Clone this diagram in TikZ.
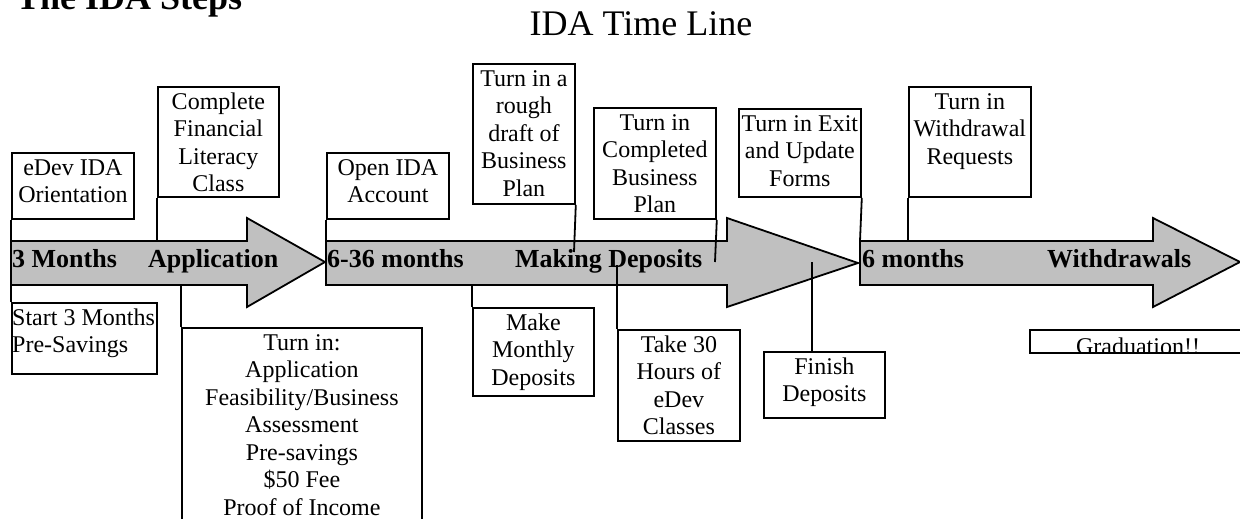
\documentclass[tikz,border=0pt]{standalone}
\usepackage{fontspec}
\setmainfont{Liberation Serif}
\definecolor{arrowgray}{HTML}{C0C0C0}
\tikzset{
  box/.style={draw, line width=1.8pt, inner sep=0pt, anchor=north west},
  txt/.style={font=\fontsize{24}{27.5}\selectfont, align=center, inner sep=0pt, anchor=north},
  ltxt/.style={font=\fontsize{24}{27.5}\selectfont, align=left, inner sep=0pt, anchor=north west},
  lbl/.style={font=\bfseries\fontsize{26}{30}\selectfont, anchor=base west, inner sep=0pt},
  conn/.style={line width=1.8pt},
  bigarrow/.style={draw, line width=1.8pt, fill=arrowgray, line join=miter}
}
\begin{document}
\begin{tikzpicture}[x=1pt,y=-1pt]
\useasboundingbox (0,0) rectangle (1240,519);
\clip (0,0) rectangle (1240,519);
\fill[white] (0,0) rectangle (1240,519);

% headings
\node[font=\bfseries\fontsize{36}{40}\selectfont, anchor=base west, inner sep=0pt] (heading) at (16,10) {The IDA Steps};
\node[font=\fontsize{36}{40}\selectfont, anchor=base, inner sep=0pt] (title) at (641,36) {IDA Time Line};

% timeline arrows
\draw[bigarrow] (11,241) -- (247,241) -- (247,218) -- (325,262) -- (247,307) -- (247,285) -- (11,285) -- cycle;
\draw[bigarrow] (326,241) -- (727,241) -- (727,218) -- (858,263) -- (727,307) -- (727,285) -- (326,285) -- cycle;
\draw[bigarrow] (860,241) -- (1153,241) -- (1153,218) -- (1240,262) -- (1153,307) -- (1153,285) -- (860,285) -- cycle;

% arrow labels
\node[lbl] (l1) at (12,267) {3 Months};
\node[lbl] (l2) at (148,267) {Application};
\node[lbl] (l3) at (327,267) {6-36 months};
\node[lbl] (l4) at (515,267) {Making Deposits};
\node[lbl] (l5) at (862,267) {6 months};
\node[lbl] (l6) at (1047,267) {Withdrawals};

% connector end points on the arrows
\coordinate (e1) at (11,241);
\coordinate (e2) at (157,241);
\coordinate (e3) at (11,285);
\coordinate (e4) at (181,285);
\coordinate (e5) at (326,241);
\coordinate (e6) at (574,252);
\coordinate (e7) at (715,262);
\coordinate (e8) at (860,241);
\coordinate (e9) at (908,241);
\coordinate (e10) at (472,285);
\coordinate (e11) at (617,265);
\coordinate (e12) at (812,262);

% boxes above
\node[box, minimum width=122, minimum height=66] (orient) at (11,152) {};
\node[txt] (orientT) at ([yshift=-3.75pt]orient.north) {\strut eDev IDA\\Orientation};

\node[box, minimum width=121, minimum height=110] (fin) at (157,86) {};
\node[txt] (finT) at ([yshift=-3.75pt]fin.north) {\strut Complete\\Financial\\Literacy\\Class};

\node[box, minimum width=122, minimum height=66] (openida) at (326,152) {};
\node[txt] (openidaT) at ([yshift=-3.75pt]openida.north) {\strut Open IDA\\Account};

\node[box, minimum width=102, minimum height=140] (rough) at (472,63) {};
\node[txt] (roughT) at ([yshift=-3.75pt]rough.north) {\strut Turn in a\\rough\\draft of\\Business\\Plan};

\node[box, minimum width=122, minimum height=111] (compl) at (593,107) {};
\node[txt] (complT) at ([yshift=-3.75pt]compl.north) {\strut Turn in\\Completed\\Business\\Plan};

\node[box, minimum width=122, minimum height=88] (exit) at (738,108) {};
\node[txt] (exitT) at ([yshift=-3.75pt]exit.north) {\strut Turn in Exit\\and Update\\Forms};

\node[box, minimum width=122, minimum height=110] (withd) at (908,86) {};
\node[txt] (withdT) at ([yshift=-3.75pt]withd.north) {\strut Turn in\\Withdrawal\\Requests};

% boxes below
\node[box, minimum width=145, minimum height=71] (start) at (11,302) {};
\node[ltxt] (startT) at ([xshift=1pt,yshift=-3.75pt]start.north west) {\strut Start 3 Months\\Pre-Savings};

\node[box, minimum width=240, minimum height=210] (turnin) at (181,327) {};
\node[txt] (turninT) at ([yshift=-3.75pt]turnin.north) {\strut Turn in:\\Application\\Feasibility/Business\\Assessment\\Pre-savings\\\$50 Fee\\Proof of Income};

\node[box, minimum width=121, minimum height=88] (monthly) at (472,307) {};
\node[txt] (monthlyT) at ([yshift=-3.75pt]monthly.north) {\strut Make\\Monthly\\Deposits};

\node[box, minimum width=122, minimum height=111] (take) at (617,329) {};
\node[txt] (takeT) at ([yshift=-3.75pt]take.north) {\strut Take 30\\Hours of\\eDev\\Classes};

\node[box, minimum width=121, minimum height=66] (finish) at (763,351) {};
\node[txt] (finishT) at ([yshift=-3.75pt]finish.north) {\strut Finish\\Deposits};

\node[box, minimum width=218, minimum height=23] (grad) at (1029,329) {};
\begin{scope}
  \clip (grad.south west) rectangle (grad.north east);
  \node[font=\fontsize{24}{27.5}\selectfont, anchor=base, inner sep=0pt] (gradT) at (1138,354) {Graduation!!};
\end{scope}

% connectors
\draw[conn] (orient.south west) -- (e1);
\draw[conn] (fin.south west) -- (e2);
\draw[conn] (start.north west) -- (e3);
\draw[conn] (turnin.north west) -- (e4);
\draw[conn] (openida.south west) -- (e5);
\draw[conn] (rough.south east) -- (e6);
\draw[conn] (compl.south east) -- (e7);
\draw[conn] (exit.south east) -- (e8);
\draw[conn] (withd.south west) -- (e9);
\draw[conn] (monthly.north west) -- (e10);
\draw[conn] (take.north west) -- (e11);
\draw[conn] (e12 |- finish.north) -- (e12);
\end{tikzpicture}
\end{document}
